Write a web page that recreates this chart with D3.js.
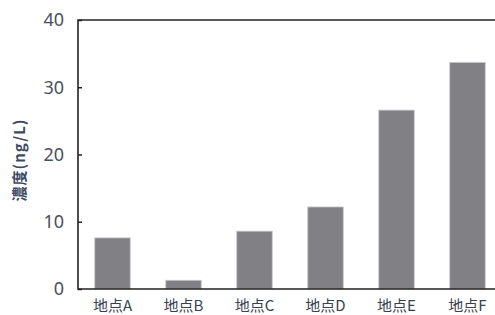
<!DOCTYPE html>
<html>
<head>
<meta charset="utf-8">
<script src="https://cdn.jsdelivr.net/npm/d3@7"></script>
<style>
  body { margin: 0; background: #fff; }
  svg { display: block; }
</style>
</head>
<body>
<div id="chart"></div>
<script>
// Data
var sites = ['地点A', '地点B', '地点C', '地点D', '地点E', '地点F'];
var concentration = [7.6, 1.3, 8.6, 12.2, 26.6, 33.7];
var yTicks = [0, 10, 20, 30, 40];

var width = 495;
var height = 315;
var margin = { top: 20, left: 78, bottom: 289 };

var svg = d3.select('#chart')
            .append('svg')
            .attr('width', width)
            .attr('height', height);

// Scales
var x = d3.scaleBand()
          .domain(sites)
          .range([margin.left - 1, margin.left - 1 + 71 * sites.length])
          .paddingInner(0.5)
          .paddingOuter(0.25);
var y = d3.scaleLinear()
          .domain([0, 40])
          .range([margin.bottom, margin.top]);

// Bars
svg.append('g')
   .selectAll('rect')
   .data(concentration)
   .enter()
   .append('rect')
   .attr('x', function (d, i) { return x(sites[i]); })
   .attr('y', function (d) { return y(d); })
   .attr('width', x.bandwidth())
   .attr('height', function (d) { return y(0) - y(d); })
   .attr('fill', '#818185')
   .attr('stroke', '#c8c8cc')
   .attr('stroke-width', 0.8);

// Y axis, ticks pointing inward
var yAxis = svg.append('g')
               .attr('transform', 'translate(' + margin.left + ',0)')
               .call(d3.axisRight(y).tickValues(yTicks).tickSize(4).tickFormat(''));
yAxis.select('.domain').remove();
yAxis.selectAll('line').attr('stroke', '#222').attr('stroke-width', 1.5);

svg.append('g')
   .selectAll('text')
   .data(yTicks)
   .enter()
   .append('text')
   .attr('x', 64)
   .attr('y', function (d) { return y(d); })
   .attr('dy', '0.35em')
   .attr('text-anchor', 'end')
   .attr('font-family', 'Noto Sans, sans-serif')
   .attr('font-size', 18)
   .attr('fill', '#4a4f5e')
   .text(function (d) { return d; });

// Frame: left, top and bottom lines
svg.append('path')
   .attr('d', 'M' + width + ',' + y(40) + 'H' + margin.left + 'V' + y(0) + 'H' + width)
   .attr('fill', 'none')
   .attr('stroke', '#222')
   .attr('stroke-width', 1.6);

// X labels
svg.append('g')
   .selectAll('text')
   .data(sites)
   .enter()
   .append('text')
   .attr('x', function (d) { return x(d) + x.bandwidth() / 2; })
   .attr('y', 311)
   .attr('text-anchor', 'middle')
   .attr('font-family', 'Noto Sans CJK JP, sans-serif')
   .attr('font-size', 15)
   .attr('fill', '#3a3f4e')
   .text(function (d) { return d; });

// Y label
svg.append('text')
   .attr('transform', 'translate(25,160) rotate(-90)')
   .attr('text-anchor', 'middle')
   .attr('font-family', 'Noto Sans CJK JP, sans-serif')
   .attr('font-size', 15)
   .attr('letter-spacing', 1)
   .attr('font-weight', 'bold')
   .attr('fill', '#3d4a63')
   .text('濃度(ng/L)');
</script>
</body>
</html>
